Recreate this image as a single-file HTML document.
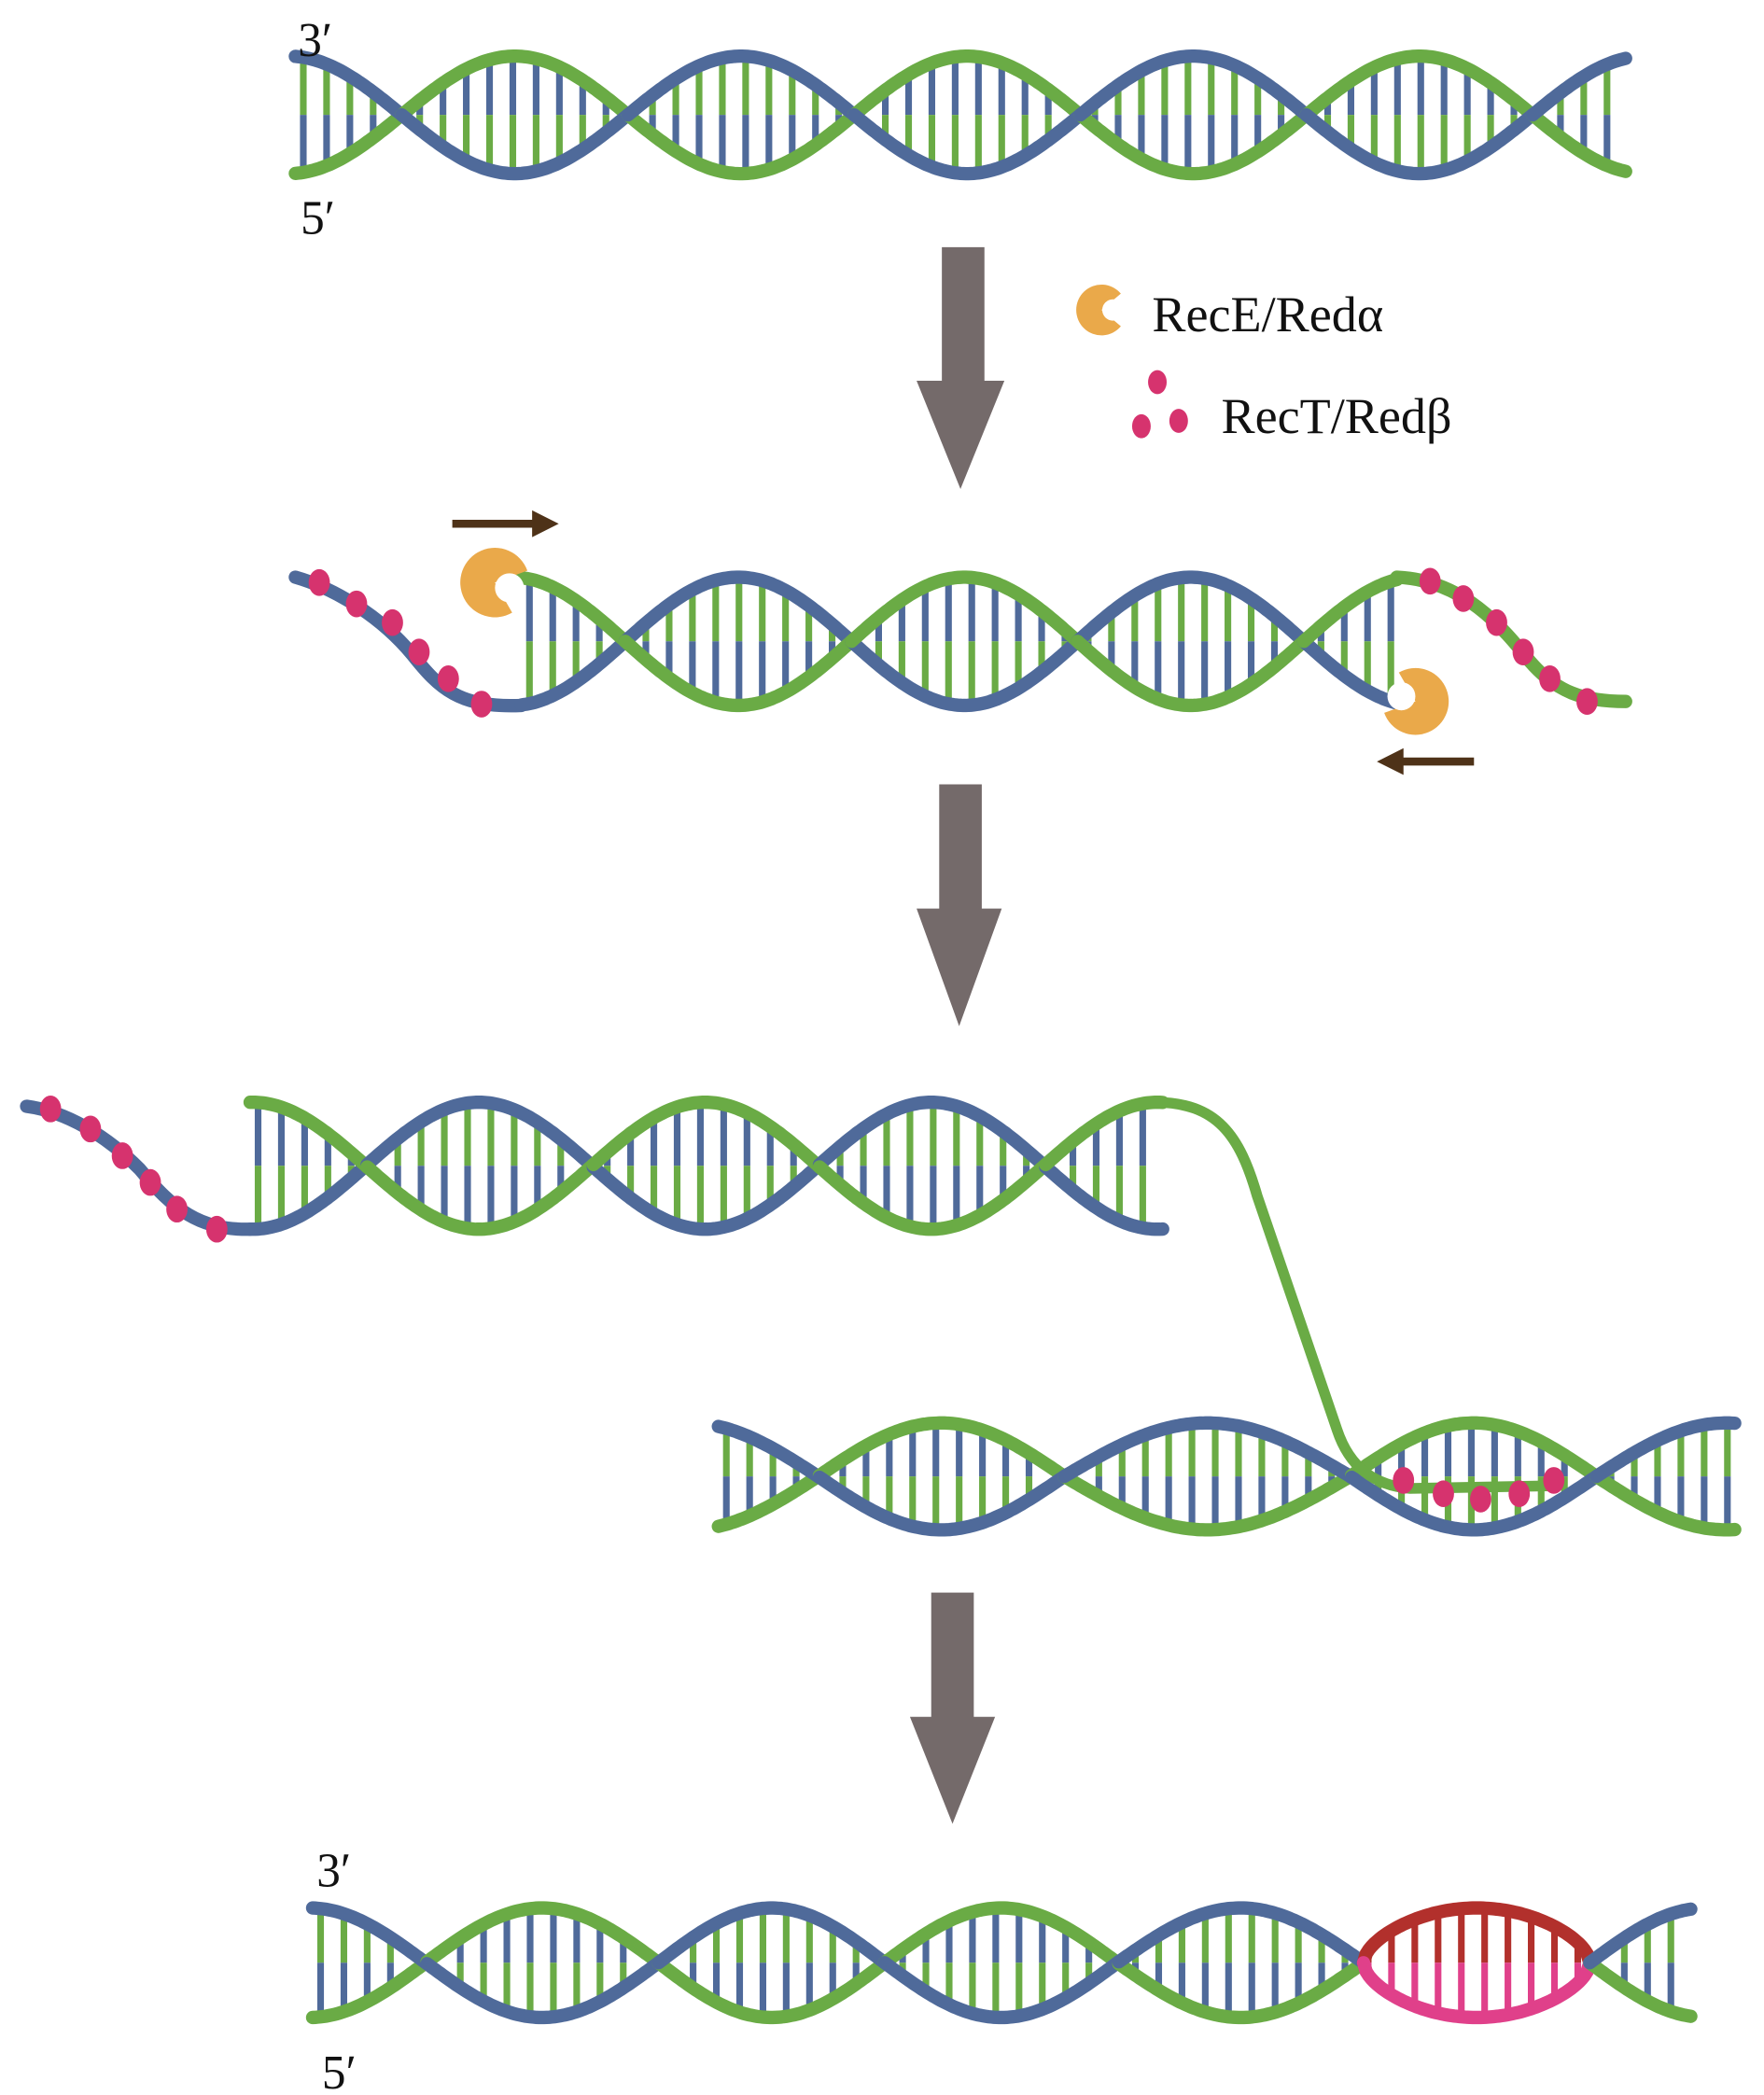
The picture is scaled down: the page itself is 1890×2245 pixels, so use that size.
<!DOCTYPE html>
<html><head><meta charset="utf-8">
<style>
html,body{margin:0;padding:0;background:#fff;}
svg{display:block;}
text{font-family:"Liberation Serif",serif;fill:#111;}
</style></head>
<body>
<svg id="s" width="1890" height="2245" viewBox="0 0 1326 1568" preserveAspectRatio="none" xmlns="http://www.w3.org/2000/svg">
<g id="g"></g>
<!-- gray arrows -->
<polygon fill="#746a6a" points="708,185 740,185 740,285 755,285 722,366 689,285 708,285"/>
<polygon fill="#746a6a" points="706,587 738,587 738,680 753,680 721,768 689,680 706,680"/>
<polygon fill="#746a6a" points="700,1192 732,1192 732,1285 748,1285 716,1365 684,1285 700,1285"/>
<!-- brown arrows -->
<polygon fill="#4e3218" points="340,389 400,389 400,382 420,392 400,402 400,395 340,395"/>
<polygon fill="#4e3218" points="1108,567 1055,567 1055,560 1035,570 1055,580 1055,573 1108,573"/>
<!-- legend -->
<text x="224" y="42" font-size="36">3′</text>
<text x="226" y="175" font-size="36">5′</text>
<text x="238" y="1412" font-size="36">3′</text>
<text x="242" y="1563" font-size="36">5′</text>
<text x="866" y="248" font-size="38">RecE/Redα</text>
<text x="918" y="324" font-size="38">RecT/Redβ</text>
<ellipse cx="870" cy="286" rx="7" ry="9" fill="#d6336e"/>
<ellipse cx="858" cy="319" rx="7" ry="9" fill="#d6336e"/>
<ellipse cx="886" cy="315" rx="7" ry="9" fill="#d6336e"/>
</svg>
<script>
var G=document.getElementById('g'),NS='http://www.w3.org/2000/svg';
var GR='#6aab45',BL='#4f6a9a',PK='#d6336e',OR='#eaa94a';
function el(t,a){var e=document.createElementNS(NS,t);for(var k in a)e.setAttribute(k,a[k]);G.appendChild(e);return e;}
function helix(o){
 var c=o.c,mid=(o.yt+o.yb)/2,amp=(o.yb-o.yt)/2;
 var sp=(c[c.length-1]-c[0])/(c.length-1);
 var cc=[c[0]-sp].concat(c).concat([c[c.length-1]+sp]);
 function info(x){var k=0;while(k<cc.length-2&&x>=cc[k+1])k++;
  var t=(x-cc[k])/(cc[k+1]-cc[k]);var seg=k-1;var s=((seg+1)%2===0?1:-1);
  var sn=Math.sin(Math.PI*t);if(o.ov&&o.ov.seg==seg)sn=Math.pow(Math.max(sn,0),0.55);
  var v=amp*s*sn;return {seg:seg,yA:mid-v,yB:mid+v,s:s};}
 var cA=o.aTop=='g'?GR:BL,cB=o.aTop=='g'?BL:GR;
 for(var x=o.x1+6;x<=o.x2-4;x+=o.rs||17.5){var f=info(x);var top=Math.min(f.yA,f.yB),bot=Math.max(f.yA,f.yB);
  if(bot-top<14)continue;var topC=f.s>0?cA:cB,botC=f.s>0?cB:cA;
  var ov=o.ov&&o.ov.seg==f.seg;var m=(top+bot)/2;
  el('line',{x1:x,y1:top,x2:x,y2:m,stroke:ov?o.ov.t:botC,'stroke-width':5});
  el('line',{x1:x,y1:m,x2:x,y2:bot,stroke:ov?o.ov.b:topC,'stroke-width':5});}
 var segs={};
 for(var x=o.x1;x<=o.x2+0.01;x+=2){var f=info(x);if(!segs[f.seg])segs[f.seg]={A:[],B:[],s:f.s};
  segs[f.seg].A.push(x+','+f.yA.toFixed(1));segs[f.seg].B.push(x+','+f.yB.toFixed(1));}
 var keys=Object.keys(segs).map(Number).sort(function(a,b){return a-b});
 for(var i=0;i<keys.length-1;i++){segs[keys[i]].A.push(segs[keys[i+1]].A[0]);segs[keys[i]].B.push(segs[keys[i+1]].B[0]);}
 keys.forEach(function(k){var S=segs[k];var ov=o.ov&&o.ov.seg==k;
  var ca=cA,cb=cB;if(ov){ca=S.s>0?o.ov.t:o.ov.b;cb=S.s>0?o.ov.b:o.ov.t;}
  el('polyline',{points:S.B.join(' '),fill:'none',stroke:cb,'stroke-width':o.w||10,'stroke-linecap':'round'});
  el('polyline',{points:S.A.join(' '),fill:'none',stroke:ca,'stroke-width':o.w||10,'stroke-linecap':'round'});});
}
function dots(pts){pts.forEach(function(p){el('ellipse',{cx:p[0],cy:p[1],rx:8,ry:10,fill:PK});});}
function path(d,c,w){el('path',{d:d,fill:'none',stroke:c,'stroke-width':w||10,'stroke-linecap':'round'});}
function pac(cx,cy,r,ang){var a1=(ang-40)*Math.PI/180,a2=(ang+40)*Math.PI/180;
 var d='M'+cx+','+cy+' L'+(cx+r*Math.cos(a2))+','+(cy+r*Math.sin(a2))+' A'+r+','+r+' 0 1 1 '+(cx+r*Math.cos(a1))+','+(cy+r*Math.sin(a1))+' Z';
 el('path',{d:d,fill:OR});el('circle',{cx:cx+r*0.45*Math.cos(ang*Math.PI/180),cy:cy+r*0.45*Math.sin(ang*Math.PI/180),r:r*0.42,fill:'#fff'});}

pac(828,232,19,0);
// helix 1
helix({x1:222,x2:1222,yt:42,yb:130,c:[302,472,642,812,982,1152],aTop:'b'});
// helix 2
path('M222,432 C250,440 285,460 310,490 C330,515 345,530 392,528',BL);
path('M1050,432 C1100,434 1130,470 1150,495 C1170,518 1190,525 1222,525',GR);
helix({x1:392,x2:1050,yt:432,yb:528,c:[470,640,810,980],aTop:'g'});
dots([[240,436],[268,452],[295,466],[315,488],[337,508],[362,527]]);
dots([[1075,435],[1100,448],[1125,466],[1145,488],[1165,508],[1193,525]]);
pac(372,436,26,20);
pac(1064,525,25,200);
// helix 3
path('M20,828 C50,832 80,850 105,875 C130,905 150,921 188,920',BL);
helix({x1:188,x2:875,yt:825,yb:920,c:[275,445,615,785],aTop:'g'});
dots([[38,830],[68,845],[92,865],[113,885],[133,905],[163,920]]);
// helix 4
helix({x1:540,x2:1305,yt:1065,yb:1145,c:[615,800,1015,1200],aTop:'b'});
path('M868,825 C915,825 932,850 945,895 L1005,1070 C1015,1100 1035,1112 1060,1114 L1170,1112',GR,8);
dots([[1055,1108],[1085,1118],[1113,1122],[1142,1118],[1168,1108]]);
// helix 5
helix({x1:235,x2:1272,yt:1428,yb:1510,c:[320,495,665,840,1025,1195],aTop:'b',ov:{seg:4,t:'#b2302c',b:'#e0408a'}});
</script>
</body></html>
